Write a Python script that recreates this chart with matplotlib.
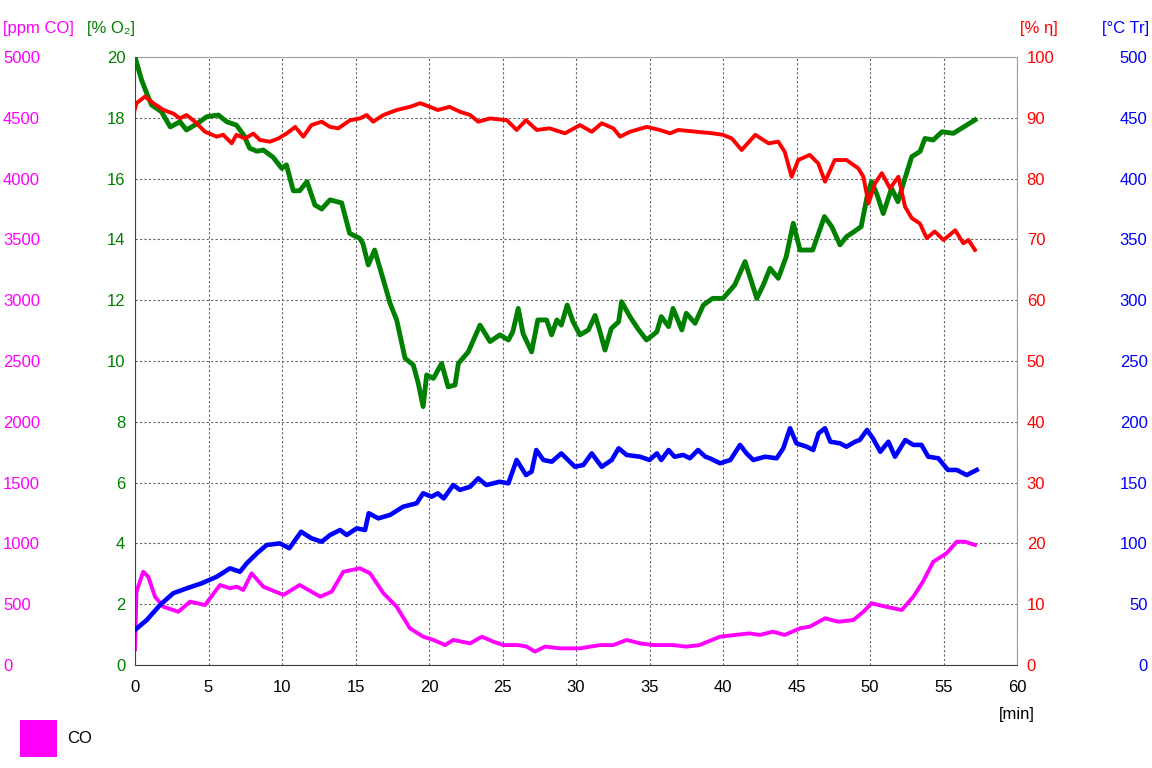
import matplotlib
matplotlib.use("Agg")
import matplotlib.pyplot as plt
from matplotlib.patches import Patch

plt.rcParams['font.family'] = ['Liberation Sans', 'DejaVu Sans']
plt.rcParams['font.size'] = 12

# O2 [%]
o2_t = [0, 0.45, 0.8, 1.13, 1.8, 2.4, 3.06, 3.5, 4.2, 4.9, 5.67, 6.24, 6.9, 7.4, 7.8, 8.3, 8.73, 9.4,
        9.98, 10.3, 10.77, 11.2, 11.7, 12.24, 12.7, 13.27, 14.06, 14.6, 15.3, 15.5, 15.87, 16.3, 16.9,
        17.35, 17.8, 18.37, 18.93, 19.27, 19.6, 19.84, 20.3, 20.86, 21.3, 21.77, 22.0, 22.67, 23.47,
        24.15, 24.83, 25.4, 25.7, 26.07, 26.4, 26.98, 27.4, 28.0, 28.34, 28.7, 29.0, 29.4, 29.8, 30.27,
        30.84, 31.3, 31.6, 31.97, 32.4, 32.9, 33.1, 33.67, 34.2, 34.8, 35.5, 35.8, 36.3, 36.6, 37.2,
        37.5, 38.1, 38.66, 39.3, 40.0, 40.8, 41.5, 42.3, 42.74, 43.2, 43.76, 44.3, 44.78, 45.24, 46.1,
        46.9, 47.4, 47.96, 48.4, 48.9, 49.4, 49.8, 50.1, 50.45, 50.9, 51.47, 51.9, 52.27, 52.84, 53.4,
        53.74, 54.3, 54.9, 55.67, 56.58, 57.14]
o2_v = [20.0, 19.24, 18.8, 18.42, 18.2, 17.7, 17.87, 17.6, 17.8, 18.04, 18.09, 17.87, 17.76, 17.43,
        17.0, 16.9, 16.94, 16.7, 16.34, 16.45, 15.6, 15.6, 15.9, 15.13, 15.0, 15.3, 15.2, 14.2, 14.03,
        13.87, 13.16, 13.65, 12.66, 11.9, 11.35, 10.09, 9.87, 9.27, 8.5, 9.54, 9.43, 9.92, 9.15, 9.21,
        9.92, 10.3, 11.18, 10.64, 10.86, 10.69, 10.96, 11.73, 10.9, 10.3, 11.35, 11.35, 10.86, 11.35,
        11.18, 11.84, 11.29, 10.86, 11.02, 11.5, 11.02, 10.36, 11.07, 11.29, 11.95, 11.46, 11.07, 10.69,
        10.96, 11.46, 11.13, 11.73, 11.02, 11.57, 11.24, 11.84, 12.06, 12.06, 12.5, 13.27, 12.06, 12.5,
        13.05, 12.72, 13.43, 14.53, 13.65, 13.65, 14.75, 14.42, 13.82, 14.09, 14.25, 14.42, 15.4, 15.9,
        15.51, 14.85, 15.68, 15.24, 15.84, 16.72, 16.89, 17.32, 17.27, 17.54, 17.49, 17.76, 17.93]

# efficiency eta [%]
eta_t = [0, 0.1, 0.68, 1.25, 1.93, 2.6, 3.06, 3.5, 4.08, 4.76, 5.56, 6.0, 6.58, 6.9, 7.48, 8.05, 8.5,
         9.18, 9.75, 10.3, 10.9, 11.45, 12.0, 12.7, 13.27, 13.83, 14.63, 15.3, 15.76, 16.2, 16.9, 17.8,
         18.7, 19.4, 20.07, 20.6, 21.4, 22.1, 22.8, 23.35, 24.15, 25.3, 25.96, 26.6, 27.33, 28.2, 29.25,
         30.27, 31.07, 31.75, 32.54, 33.0, 33.67, 34.8, 35.7, 36.4, 36.96, 38.2, 39.3, 40.0, 40.6, 41.27,
         42.2, 43.1, 43.76, 44.2, 44.67, 45.12, 45.9, 46.48, 46.94, 47.6, 48.4, 49.2, 49.55, 49.9, 50.34,
         50.8, 51.36, 51.93, 52.38, 52.84, 53.4, 53.86, 54.4, 55.0, 55.8, 56.35, 56.7, 57.14]
eta_v = [91.5, 92.4, 93.5, 92.4, 91.3, 90.7, 89.9, 90.46, 89.36, 87.7, 86.9, 87.2, 85.8, 87.2, 86.6,
         87.4, 86.35, 86.07, 86.6, 87.4, 88.5, 86.9, 88.8, 89.36, 88.5, 88.27, 89.6, 89.9, 90.46, 89.36,
         90.46, 91.28, 91.8, 92.4, 91.8, 91.28, 91.8, 91.0, 90.46, 89.36, 89.9, 89.6, 88.0, 89.6, 88.0,
         88.27, 87.45, 88.8, 87.7, 89.1, 88.27, 86.9, 87.7, 88.5, 88.0, 87.45, 88.0, 87.7, 87.45, 87.2,
         86.6, 84.7, 87.2, 85.8, 86.07, 84.4, 80.3, 83.06, 83.9, 82.5, 79.5, 83.06, 83.06, 81.7, 80.3,
         75.9, 79.2, 80.9, 78.4, 80.3, 75.4, 73.5, 72.6, 70.2, 71.3, 69.9, 71.5, 69.36, 69.9, 68.26]

# flue temperature Tr [degC]
tr_t = [0, 0.8, 1.7, 2.6, 3.5, 4.54, 5.56, 6.46, 7.14, 7.6, 8.3, 8.96, 9.86, 10.5, 11.3, 12.0, 12.7,
        13.27, 13.95, 14.4, 15.08, 15.65, 15.9, 16.55, 17.35, 18.25, 19.16, 19.6, 20.18, 20.6, 21.0,
        21.65, 22.1, 22.8, 23.35, 23.9, 24.8, 25.4, 25.96, 26.6, 26.98, 27.3, 27.78, 28.35, 29.0, 29.93,
        30.5, 31.07, 31.75, 32.43, 32.9, 33.45, 34.35, 35.0, 35.5, 35.8, 36.3, 36.7, 37.3, 37.75, 38.3,
        38.8, 39.1, 39.8, 40.5, 41.16, 41.6, 42.06, 42.86, 43.65, 44.1, 44.56, 45.0, 45.7, 46.14, 46.5,
        46.94, 47.3, 47.96, 48.4, 48.98, 49.3, 49.8, 50.2, 50.7, 51.25, 51.7, 52.4, 52.95, 53.5, 53.96,
        54.65, 55.3, 55.9, 56.58, 57.26]
tr_v = [28.8, 37, 49.3, 59, 63, 67.2, 72.6, 79.5, 76.7, 83.6, 91.9, 98.7, 100, 96, 109.6, 104.2, 101.4,
        106.9, 111, 106.9, 112.4, 111, 124.8, 120.6, 123.4, 130.2, 133, 141.2, 138.4, 141.2, 137, 148,
        144, 146.6, 153.5, 148, 150.7, 149.4, 168.6, 156.2, 159, 176.8, 168.6, 167.2, 174, 163, 164.5,
        174, 163, 168.6, 178.2, 172.7, 171.3, 168.6, 174, 168.6, 176.8, 171.3, 172.7, 170, 176.8, 171.3,
        170, 165.9, 168.6, 181, 174, 168.6, 171.3, 170, 178.2, 194.7, 182.3, 179.5, 176.8, 190.5, 194.7,
        183.6, 182.3, 179.5, 183.6, 185, 193.3, 186.4, 175.4, 183.6, 171.3, 185, 181, 181, 171.3, 170,
        160.4, 160.4, 156.2, 160.4]

# CO [ppm]
co_t = [0, 0.1, 0.56, 0.9, 1.36, 1.93, 2.95, 3.74, 4.76, 5.78, 6.46, 6.92, 7.37, 7.93, 8.73, 10.1,
        11.2, 12.6, 13.38, 14.17, 15.3, 15.99, 16.9, 17.8, 18.7, 19.6, 20.3, 21.1, 21.65, 22.8, 23.6,
        24.37, 25.05, 26.07, 26.65, 27.2, 27.9, 28.9, 30.27, 31.63, 32.54, 33.45, 34.35, 35.26, 36.6,
        37.5, 38.4, 39.8, 41.8, 42.5, 43.4, 44.2, 45.24, 45.9, 46.94, 47.85, 48.87, 49.55, 50.1, 51.1,
        52.16, 52.95, 53.6, 54.3, 55.2, 55.9, 56.46, 57.14]
co_v = [130, 603, 767, 726, 562, 479, 438, 521, 493, 658, 631, 644, 617, 754, 644, 576, 658, 562, 603,
        767, 795, 754, 590, 479, 302, 233, 206, 164, 206, 178, 233, 192, 164, 164, 151, 110, 151, 137,
        137, 164, 164, 206, 178, 164, 164, 151, 164, 233, 260, 247, 274, 247, 302, 315, 384, 356, 370,
        438, 507, 479, 452, 562, 685, 849, 918, 1014, 1014, 987]

x_ticks = list(range(0, 61, 5))
GREEN, RED, BLUE, MAG = '#008000', '#ff0000', '#0000ff', '#ff00ff'

fig = plt.figure(figsize=(11.52, 7.68), dpi=100)
ax = fig.add_axes([135 / 1152, 103 / 768, 882 / 1152, 608 / 768])

# base axis: CO, carries the grid
ax.plot(co_t, co_v, color=MAG, lw=2.8)
ax.set_xlim(0, 60)
ax.set_ylim(0, 5000)
ax.set_xticks(x_ticks)
ax.set_yticks(range(0, 5001, 500))
ax.grid(True, color='#666666', linestyle=(0, (2, 2)), linewidth=0.8)
ax.tick_params(axis='x', length=0, pad=11, labelsize=12, labelcolor='black')
ax.tick_params(axis='y', length=0, pad=95, labelsize=12, labelcolor=MAG)
for lbl in ax.get_yticklabels():
    lbl.set_horizontalalignment('left')
ax.spines['left'].set_color('#404040')
ax.spines['bottom'].set_color('#404040')
ax.spines['top'].set_color('#a0a0a0')
ax.spines['right'].set_color('#a0a0a0')
ax.text(1.0, -0.082, '[min]', transform=ax.transAxes, ha='center', va='center', fontsize=12)

# O2, left inner scale
ax_o2 = ax.twinx()
ax_o2.yaxis.tick_left()
ax_o2.plot(o2_t, o2_v, color=GREEN, lw=3.5)
ax_o2.set_ylim(0, 20)
ax_o2.set_yticks(range(0, 21, 2))
ax_o2.tick_params(axis='y', length=0, pad=7, labelsize=12, labelcolor=GREEN)

# Tr, right outer scale
ax_tr = ax.twinx()
ax_tr.plot(tr_t, tr_v, color=BLUE, lw=3.3)
ax_tr.set_ylim(0, 500)
ax_tr.set_yticks(range(0, 501, 50))
ax_tr.tick_params(axis='y', length=0, pad=94, labelsize=12, labelcolor=BLUE)
for lbl in ax_tr.get_yticklabels():
    lbl.set_horizontalalignment('right')

# efficiency, right inner scale
ax_eta = ax.twinx()
ax_eta.plot(eta_t, eta_v, color=RED, lw=2.8)
ax_eta.set_ylim(0, 100)
ax_eta.set_yticks(range(0, 101, 10))
ax_eta.tick_params(axis='y', length=0, pad=7, labelsize=12, labelcolor=RED)

for a in (ax_o2, ax_tr, ax_eta):
    a.set_xlim(0, 60)
    for s in a.spines.values():
        s.set_visible(False)

# axis headers
fig.text(3 / 1152, 1 - 28 / 768, '[ppm CO]', color=MAG, ha='left', va='center', fontsize=12)
fig.text(87 / 1152, 1 - 28 / 768, '[% O₂]', color=GREEN, ha='left', va='center', fontsize=12)
fig.text(1020 / 1152, 1 - 28 / 768, '[% η]', color=RED, ha='left', va='center', fontsize=12)
fig.text(1149 / 1152, 1 - 28 / 768, '[°C Tr]', color=BLUE, ha='right', va='center', fontsize=12)

fig.legend(handles=[Patch(facecolor=MAG, edgecolor='none', label='CO')],
           loc='upper left', bbox_to_anchor=(20 / 1152, 1 - 720 / 768), frameon=False,
           fontsize=12, handlelength=2.2, handleheight=3.0, handletextpad=0.6,
           borderpad=0, borderaxespad=0)

fig.savefig('out.png', dpi=100)
